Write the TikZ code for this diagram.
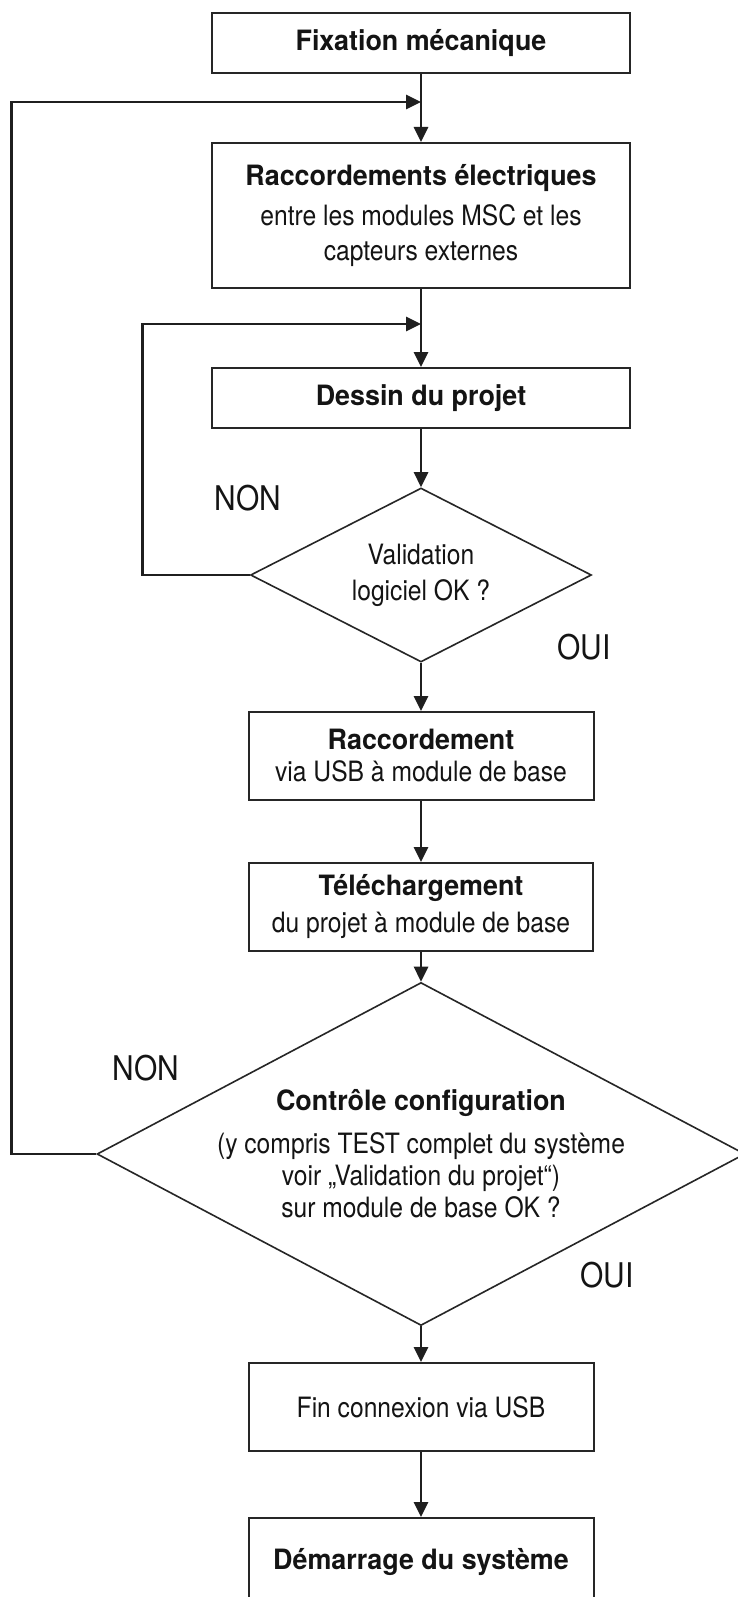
\documentclass[tikz,border=0pt]{standalone}
\usepackage{fontspec}
\setmainfont{TeX Gyre Heros}[FakeStretch=0.88]
\newfontfamily\headfont{TeX Gyre Heros}[FakeStretch=0.96]
\usetikzlibrary{arrows.meta, positioning, shapes.geometric}

\begin{document}
\begin{tikzpicture}[
    x=1pt, y=-1pt,
    stepbox/.style={
        rectangle,
        draw=black!85,
        line width=2pt,
        minimum width=418pt,
        minimum height=60pt,
        inner sep=0pt,
        align=center,
        text=black!92,
        font=\fontsize{28}{35}\selectfont
    },
    decision/.style={
        diamond,
        draw=black!85,
        line width=1.6pt,
        inner sep=0pt,
        align=center,
        text=black!92,
        font=\fontsize{28}{35}\selectfont
    },
    flow/.style={
        line width=2.7pt,
        draw=black!88,
        -{Triangle[length=15pt, width=14pt]}
    },
    answer/.style={
        font=\fontsize{34}{40}\selectfont,
        text=black!92
    }
]
    \useasboundingbox (0,0) rectangle (737,1597);
    \fill[white] (0,0) rectangle (737,1597);

    % Main steps
    \node[stepbox] (fix) at (421,43.5) {{\headfont\bfseries Fixation mécanique}};
    \node[stepbox, minimum height=145pt] (elec) at (421,215.5)
        {{\headfont\bfseries Raccordements électriques}\\[5pt]
         entre les modules MSC et les\\capteurs externes};
    \node[stepbox] (dessin) at (421,398) {{\headfont\bfseries Dessin du projet}};
    \node[decision, minimum width=341pt, minimum height=174pt, aspect=1.96] (valid) at (421,575)
        {Validation\\[1pt]logiciel OK ?};
    \node[stepbox, minimum width=345pt, minimum height=88pt] (usb) at (421,756)
        {{\headfont\bfseries Raccordement}\\[-3pt]via USB à module de base};
    \node[stepbox, minimum width=344pt, minimum height=88pt] (telech) at (421,907)
        {{\headfont\bfseries Téléchargement}\\[2pt]du projet à module de base};
    \node[decision, minimum width=648pt, minimum height=343pt, inner sep=-5pt, aspect=1.89] (ctrl) at (421,1154)
        {{\headfont\bfseries Contrôle configuration}\\[8pt]
         (y compris TEST complet du système\\[-3pt]
         voir „Validation du projet“)\\[-3pt]
         sur module de base OK ?};
    \node[stepbox, minimum width=345pt, minimum height=88pt] (fin) at (421,1407) {Fin connexion via USB};
    \node[stepbox, minimum width=345pt, minimum height=88pt] (start) at (421,1562)
        {{\headfont\bfseries Démarrage du système}};

    % Return points
    \coordinate (j1) at (421,102);
    \coordinate (j2) at (421,324);

    % Connectors
    \draw[flow] (fix) -- (elec);
    \draw[flow] (elec) -- (dessin);
    \draw[flow] (dessin) -- (valid);
    \draw[flow] (valid) -- (usb);
    \draw[flow] (usb) -- (telech);
    \draw[flow] (telech) -- (ctrl);
    \draw[flow] (ctrl) -- (fin);
    \draw[flow] (fin) -- (start);

    % Loops back
    \draw[flow] (valid.west) -- ++(-107,0) |- (j2);
    \draw[flow] (ctrl.west) -- ++(-85,0) |- (j1);

    % Answers
    \node[answer] (non1) at (248,498) {NON};
    \node[answer] (oui1) at (584,647) {OUI};
    \node[answer] (non2) at (146,1068) {NON};
    \node[answer] (oui2) at (607,1275) {OUI};
\end{tikzpicture}
\end{document}
